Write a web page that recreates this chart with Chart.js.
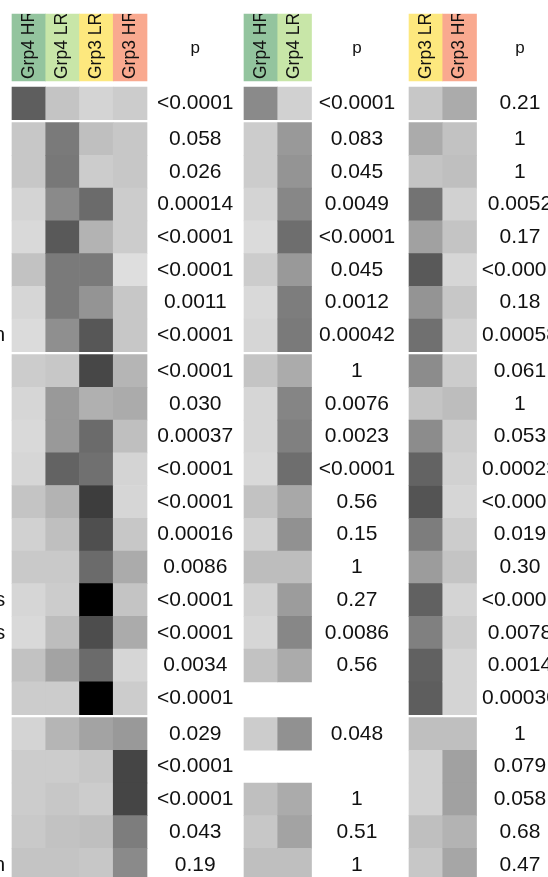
<!DOCTYPE html>
<html>
<head>
<meta charset="utf-8">
<script src="https://cdn.jsdelivr.net/npm/chart.js@4"></script>
<style>
  html, body { margin: 0; padding: 0; background: #fff; }
  canvas { display: block; }
</style>
</head>
<body>
<canvas id="grafico" width="548" height="877"></canvas>
<script>
// rows: 4 groups, 24 rows
const groupSizes = [1, 7, 11, 5];
const rowLabels = ['', '', '', '', '', '', '', 'n', '', '', '', '', '', '', '', 's', 's', '', '', '', '', '', '', 'n'];

// shade = darkness in % (0 white, 100 black); null = no cell
const panel1Cols = ['Grp4 HR', 'Grp4 LR', 'Grp3 LR', 'Grp3 HR'];
const p1Grp4HR = [63, 22, 22, 17, 15, 24, 16, 14, 20, 16, 15, 16, 23, 18, 21, 16, 15, 24, 20, 17, 20, 20, 21, 23];
const p1Grp4LR = [23, 52, 53, 46, 65, 52, 52, 44, 22, 40, 40, 61, 30, 25, 21, 20, 26, 36, 20, 29, 20, 22, 24, 23];
const p1Grp3LR = [17, 25, 20, 58, 30, 52, 42, 66, 72, 31, 58, 56, 76, 69, 58, 100, 70, 58, 100, 36, 22, 20, 25, 22];
const p1Grp3HR = [20, 22, 22, 20, 20, 13, 22, 22, 29, 33, 25, 17, 16, 22, 33, 23, 33, 16, 20, 40, 73, 73, 51, 46];
const p1Values = ['<0.0001', '0.058', '0.026', '0.00014', '<0.0001', '<0.0001', '0.0011', '<0.0001',
  '<0.0001', '0.030', '0.00037', '<0.0001', '<0.0001', '0.00016', '0.0086', '<0.0001', '<0.0001', '0.0034', '<0.0001',
  '0.029', '<0.0001', '<0.0001', '0.043', '0.19'];

const panel2Cols = ['Grp4 HR', 'Grp4 LR'];
const p2Grp4HR = [46, 20, 20, 17, 14, 20, 15, 16, 23, 16, 16, 15, 24, 18, 26, 18, 16, 24, null, 20, null, 25, 22, 25];
const p2Grp4LR = [18, 40, 42, 47, 57, 40, 51, 52, 33, 48, 50, 57, 34, 43, 26, 39, 47, 33, null, 43, null, 33, 36, 25];
const p2Values = ['<0.0001', '0.083', '0.045', '0.0049', '<0.0001', '0.045', '0.0012', '0.00042',
  '1', '0.0076', '0.0023', '<0.0001', '0.56', '0.15', '1', '0.27', '0.0086', '0.56', '',
  '0.048', '', '1', '0.51', '1'];

const panel3Cols = ['Grp3 LR', 'Grp3 HR'];
const p3Grp3LR = [22, 33, 23, 55, 37, 65, 42, 56, 45, 23, 45, 61, 67, 51, 39, 62, 50, 62, 63, 25, 18, 18, 25, 22];
const p3Grp3HR = [33, 24, 25, 18, 23, 16, 22, 18, 20, 26, 20, 18, 16, 20, 23, 17, 20, 17, 17, 25, 37, 37, 30, 35];
const p3Values = ['0.21', '1', '1', '0.0052', '0.17', '<0.0001', '0.18', '0.00058',
  '0.061', '1', '0.053', '0.00023', '<0.0001', '0.019', '0.30', '<0.0001', '0.0078', '0.0014', '0.00030',
  '1', '0.079', '0.058', '0.68', '0.47'];

const corCabecalho = {
  'Grp4 HR': '#93c49e',
  'Grp4 LR': '#c8e6a8',
  'Grp3 LR': '#fde87e',
  'Grp3 HR': '#f9a98f'
};

// layout, in scale units (x: one cell wide, y: one row tall)
const paineis = [
  { cols: panel1Cols, dados: [p1Grp4HR, p1Grp4LR, p1Grp3LR, p1Grp3HR], p: p1Values, inicio: 0, pCentro: 5.43 },
  { cols: panel2Cols, dados: [p2Grp4HR, p2Grp4LR], p: p2Values, inicio: 6.874, pCentro: 10.22 },
  { cols: panel3Cols, dados: [p3Grp3LR, p3Grp3HR], p: p3Values, inicio: 11.763, pCentro: 15.05 }
];
const espacoGrupo = 0.09;
const cabecalhoY = [-2.231, -0.183];

const topoLinha = [];
groupSizes.forEach((n, g) => {
  for (let i = 0; i < n; i++) topoLinha.push(topoLinha.length + g * espacoGrupo);
});

function cinza(v) {
  const g = Math.round(255 * (1 - v / 100));
  return `rgb(${g},${g},${g})`;
}

const datasets = paineis.map(painel => {
  const data = [];
  painel.dados.forEach((coluna, c) => {
    coluna.forEach((v, r) => {
      if (v === null) return;
      data.push({ x: painel.inicio + c + 0.5, y: [topoLinha[r], topoLinha[r] + 1], v: v });
    });
  });
  return {
    data: data,
    backgroundColor: ctx => ctx.raw ? cinza(ctx.raw.v) : '#fff'
  };
});

const cabecalhos = [];
paineis.forEach(painel => {
  painel.cols.forEach((nome, c) => {
    cabecalhos.push({ x: painel.inicio + c + 0.5, y: cabecalhoY, nome: nome });
  });
});
datasets.push({
  data: cabecalhos,
  backgroundColor: ctx => ctx.raw ? corCabecalho[ctx.raw.nome] : '#fff'
});

const fonteP = "21px 'Liberation Sans', Arial, sans-serif";

const textos = {
  id: 'textos',
  afterDatasetsDraw(chart) {
    const { ctx, scales: { x, y } } = chart;
    ctx.save();
    ctx.fillStyle = '#111';
    ctx.textBaseline = 'middle';

    // p-values
    ctx.textAlign = 'center';
    paineis.forEach(painel => {
      const px = x.getPixelForValue(painel.pCentro);
      ctx.font = fonteP;
      painel.p.forEach((t, r) => {
        if (!t) return;
        ctx.fillText(t, px, y.getPixelForValue(topoLinha[r] + 0.5));
      });
      ctx.font = "17px 'Liberation Sans', Arial, sans-serif";
      ctx.fillText('p', px, y.getPixelForValue((cabecalhoY[0] + cabecalhoY[1]) / 2) + 1);
    });

    // row labels (cut off at the left)
    ctx.font = fonteP;
    ctx.textAlign = 'right';
    rowLabels.forEach((t, r) => {
      if (!t) return;
      ctx.fillText(t, x.getPixelForValue(-0.2), y.getPixelForValue(topoLinha[r] + 0.5));
    });

    // column headers, rotated
    const yTopo = y.getPixelForValue(cabecalhoY[0]);
    const yBase = y.getPixelForValue(cabecalhoY[1]);
    ctx.font = "17.5px 'Liberation Sans', Arial, sans-serif";
    ctx.textAlign = 'left';
    paineis.forEach(painel => {
      const x0 = x.getPixelForValue(painel.inicio);
      const x1 = x.getPixelForValue(painel.inicio + painel.cols.length);
      ctx.save();
      ctx.beginPath();
      ctx.rect(x0, yTopo, x1 - x0, yBase - yTopo);
      ctx.clip();
      painel.cols.forEach((nome, c) => {
        ctx.save();
        ctx.translate(x.getPixelForValue(painel.inicio + c + 0.5), yBase - 2);
        ctx.rotate(-Math.PI / 2);
        ctx.fillText(nome, 0, 0);
        ctx.restore();
      });
      ctx.restore();
    });
    ctx.restore();
  }
};

new Chart(document.getElementById('grafico'), {
  type: 'bar',
  data: { datasets: datasets },
  options: {
    responsive: false,
    animation: false,
    layout: { padding: 0 },
    grouped: false,
    barPercentage: 1,
    categoryPercentage: 1,
    borderWidth: 0,
    plugins: {
      legend: { display: false },
      tooltip: { enabled: false }
    },
    scales: {
      x: {
        type: 'linear', display: false, min: -0.3556, max: 15.881,
        afterBuildTicks: s => { s.ticks = []; }
      },
      y: {
        type: 'linear', display: false, min: -2.659, max: 24.144, reverse: true,
        afterBuildTicks: s => { s.ticks = []; }
      }
    }
  },
  plugins: [textos]
});
</script>
</body>
</html>
